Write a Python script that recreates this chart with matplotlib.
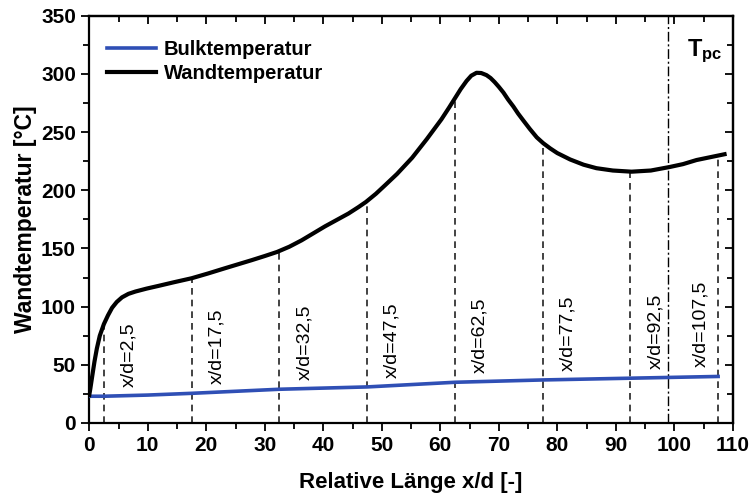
import matplotlib.pyplot as plt
from matplotlib.ticker import MultipleLocator

plt.rcParams['font.family'] = ['Liberation Sans', 'DejaVu Sans']
plt.rcParams['mathtext.fontset'] = 'custom'
plt.rcParams['mathtext.bf'] = 'Liberation Sans:bold'
plt.rcParams['mathtext.rm'] = 'Liberation Sans:bold'

# Wandtemperatur
wall_x = [0, 0.2, 0.5, 0.9, 1.3, 1.8, 2.5, 3.2, 3.9, 4.7, 5.6, 6.7, 7.9, 9.8,
          11.8, 14.5, 17.5, 20.3, 23.2, 25.5, 27.8, 30.0, 32.1, 34.2, 36.3,
          38.3, 40.3, 42.3, 44.3, 46.0, 47.3, 49.0, 50.6, 52.6, 55.2, 57.7,
          60.2, 61.5, 62.5, 63.5, 64.5, 65.3, 66.2, 67.0, 67.9, 68.6, 69.3,
          70.0, 70.8, 71.6, 72.5, 73.3, 74.2, 75.3, 76.5, 77.6, 78.8, 80.0,
          82.2, 84.5, 86.7, 89.5, 92.7, 96.0, 99.2, 101.5, 103.8, 106.2, 108.6]
wall_y = [24, 30, 40, 53, 64, 75, 85, 92.5, 99, 104, 108, 111, 113, 115.5,
          117.8, 121, 124.4, 128.5, 133, 136.5, 140, 143.5, 147, 151.5, 157,
          163, 169, 174.5, 180, 185.5, 190, 197, 204.5, 214, 228, 244,
          261, 271, 279, 287, 294, 298.5, 301, 300.8, 299, 296.5, 293,
          289, 284, 278, 272, 266, 260, 252.8, 245.5, 240.5, 236, 232,
          226.5, 222, 219, 217, 216, 217, 220, 222.5, 226, 228.5, 231]

# Bulktemperatur
bulk_x = [0, 2.5, 10, 17.5, 32.5, 47.5, 62.5, 77.5, 92.5, 107.5]
bulk_y = [23, 23, 24, 25.5, 29, 31, 35, 37, 38.5, 40]

# Messstellen
pos_x = [2.5, 17.5, 32.5, 47.5, 62.5, 77.5, 92.5, 107.5]
pos_wall = [85, 124, 147, 190, 279, 240, 216, 229]
pos_bulk = [23, 25.5, 29, 31, 35, 37, 38.5, 40]
pos_labels = ['x/d=2,5', 'x/d=17,5', 'x/d=32,5', 'x/d=47,5',
              'x/d=62,5', 'x/d=77,5', 'x/d=92,5', 'x/d=107,5']
x_tpc = 99

fig = plt.figure(figsize=(7.5, 4.93), dpi=100)
ax = fig.add_axes([0.119, 0.142, 0.858, 0.826])

ax.plot(bulk_x, bulk_y, color='#2f4fb5', lw=2.6, label='Bulktemperatur', zorder=3)
ax.plot(wall_x, wall_y, color='black', lw=3.0, label='Wandtemperatur', zorder=3,
        solid_joinstyle='round')

for xp, yw, yb, lab in zip(pos_x, pos_wall, pos_bulk, pos_labels):
    ax.plot([xp, xp], [0, yw], color='#222222', lw=1.2, ls=(0, (4, 3)), zorder=2)
    if xp > 100:
        ax.text(xp - 3.0, yb + 8, lab, rotation=90, ha='center', va='bottom', fontsize=14)
    else:
        ax.text(xp + 4.3, yb + 8, lab, rotation=90, ha='center', va='bottom', fontsize=14)

ax.axvline(x_tpc, color='black', lw=1.0, ls=(0, (7, 2, 1.5, 2)), zorder=2)
ax.text(102.2, 308, r'$\mathbf{T_{pc}}$', fontsize=17, ha='left', va='bottom')

ax.set_xlim(0, 110)
ax.set_ylim(0, 350)
ax.xaxis.set_major_locator(MultipleLocator(10))
ax.xaxis.set_minor_locator(MultipleLocator(5))
ax.yaxis.set_major_locator(MultipleLocator(50))
ax.yaxis.set_minor_locator(MultipleLocator(25))
ax.tick_params(which='major', direction='out', length=6, width=1.3, labelsize=15)
ax.tick_params(which='minor', direction='out', length=4, width=1.3)
for lbl in ax.get_xticklabels() + ax.get_yticklabels():
    lbl.set_fontweight('bold')
for sp in ax.spines.values():
    sp.set_linewidth(1.6)

top = ax.secondary_xaxis('top')
top.xaxis.set_major_locator(MultipleLocator(10))
top.xaxis.set_minor_locator(MultipleLocator(5))
top.tick_params(which='major', direction='in', length=6, width=1.3, labeltop=False)
top.tick_params(which='minor', direction='in', length=4, width=1.3)
top.spines['top'].set_linewidth(1.6)
right = ax.secondary_yaxis('right')
right.yaxis.set_major_locator(MultipleLocator(50))
right.yaxis.set_minor_locator(MultipleLocator(25))
right.tick_params(which='major', direction='in', length=6, width=1.3, labelright=False)
right.tick_params(which='minor', direction='in', length=4, width=1.3)
right.spines['right'].set_linewidth(1.6)

ax.set_xlabel('Relative Länge x/d [-]', fontsize=16, fontweight='bold', labelpad=12)
ax.set_ylabel('Wandtemperatur [°C]', fontsize=16.5, fontweight='bold', labelpad=3)

leg = ax.legend(loc='upper left', bbox_to_anchor=(0.0, 0.985), frameon=False,
                handlelength=2.4, handletextpad=0.4, labelspacing=0.25,
                prop={'weight': 'bold', 'size': 14.5})

fig.savefig('out.png', dpi=100)
